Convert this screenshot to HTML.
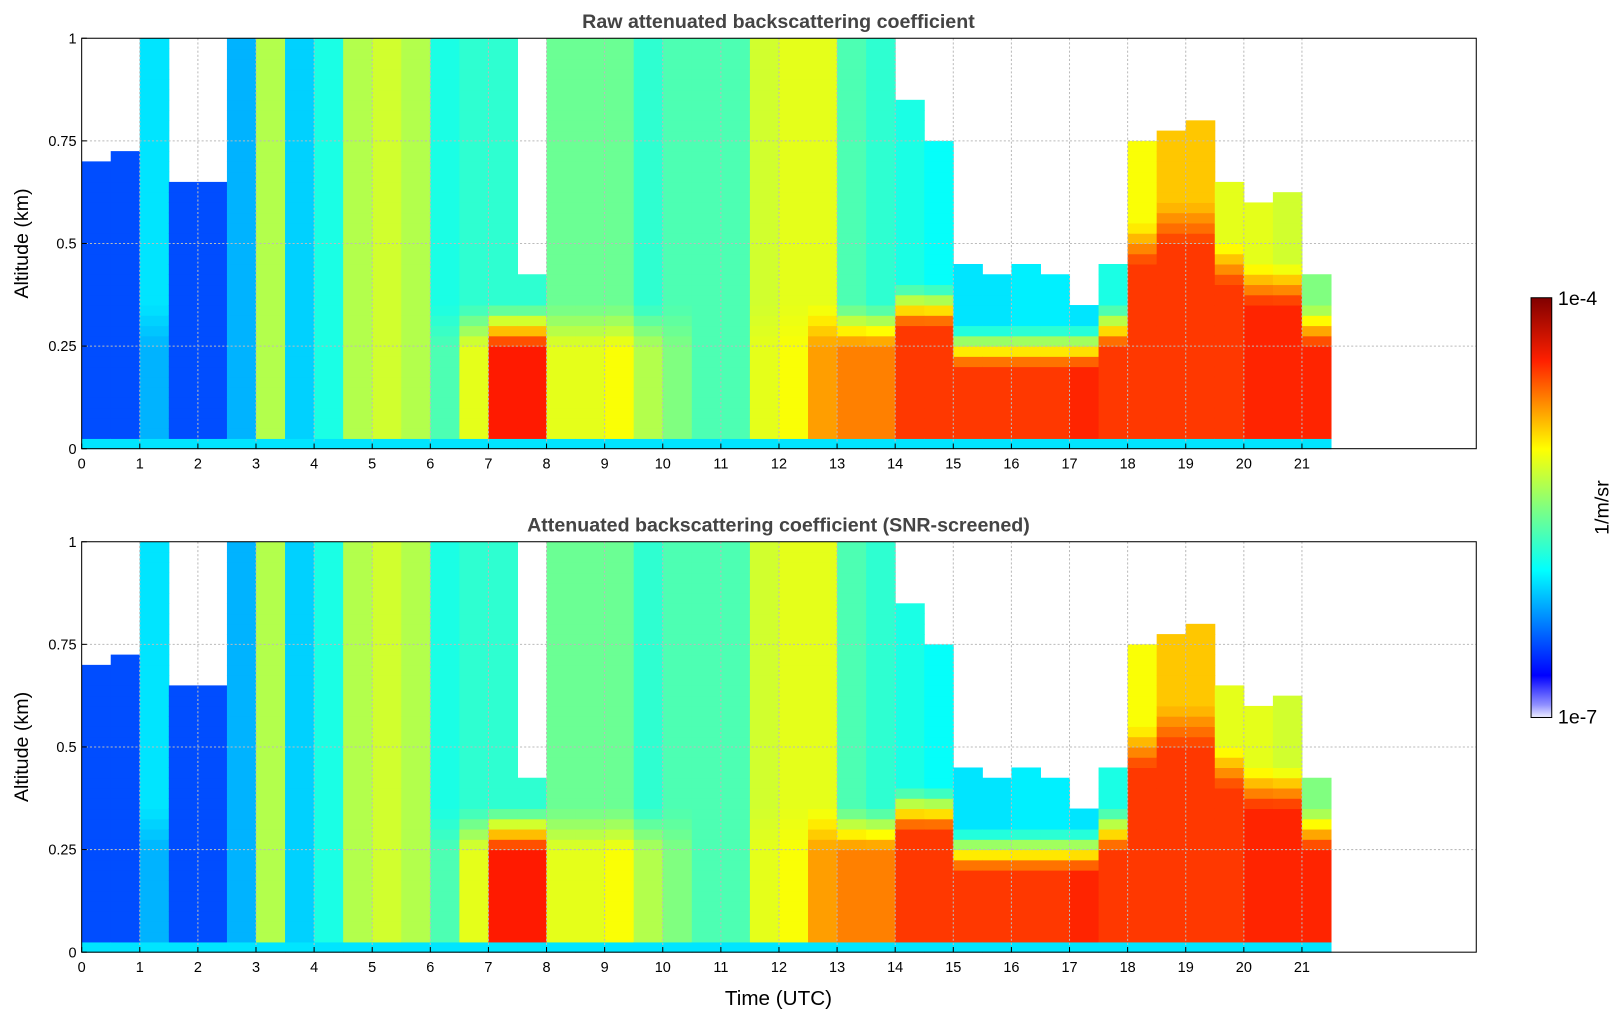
<!DOCTYPE html>
<html><head><meta charset="utf-8"><style>
html,body{margin:0;padding:0;background:#fff;overflow:hidden;width:1621px;height:1020px;}
svg{display:block;}
svg text{font-family:"Liberation Sans","DejaVu Sans",sans-serif;}
</style></head><body>
<svg id="chart" width="1621" height="1020" viewBox="0 0 1568 986.6" preserveAspectRatio="none" xmlns="http://www.w3.org/2000/svg">
<defs>
<linearGradient id="cbg" x1="0" y1="1" x2="0" y2="0">
<stop offset="0" stop-color="#eeeeff"/><stop offset="0.03" stop-color="#9090ff"/>
<stop offset="0.1" stop-color="#0000ff"/><stop offset="0.35" stop-color="#00ffff"/>
<stop offset="0.5" stop-color="#80ff80"/><stop offset="0.64" stop-color="#ffff00"/>
<stop offset="0.85" stop-color="#ff2000"/><stop offset="1" stop-color="#800000"/>
</linearGradient>
</defs>
<g id="panels"></g>
<g>
<rect x="1481" y="288" width="20" height="406" fill="url(#cbg)" stroke="#000" stroke-width="1"/>
<text x="1507" y="295" font-size="19">1e-4</text>
<text x="1507" y="700" font-size="19">1e-7</text>
<text transform="translate(1556,491) rotate(-90)" font-size="19" text-anchor="middle">1/m/sr</text>
</g>
</svg>
<script>
const times=[0,0.5,1,1.5,2,2.5,3,3.5,4,4.5,5,5.5,6,6.5,7,7.5,8,8.5,9,9.5,10,10.5,11,11.5,12,12.5,13,13.5,14,14.5,15,15.5,16,16.5,17,17.5,18,18.5,19,19.5,20,20.5,21];
const lowVal=[.2,.2,.3,.2,.2,.3,.55,.33,.4,.55,.58,.55,.45,.6,.85,.85,.6,.6,.62,.55,.5,.45,.45,.6,.62,.72,.75,.75,.82,.82,.82,.82,.82,.82,.84,.82,.82,.82,.82,.82,.84,.84,.84];
const highVal=[.2,.2,.35,.2,.2,.3,.55,.33,.4,.55,.58,.55,.4,.42,.42,.42,.48,.48,.48,.42,.45,.45,.45,.58,.6,.6,.45,.42,.4,.38,.35,.35,.36,.36,.35,.4,.62,.68,.68,.6,.6,.58,.5];
const lowTop=[.3,.3,.3,.3,.3,.3,.3,.3,.3,.3,.3,.3,.3,.3,.3,.3,.3,.3,.3,.3,.3,.3,.3,.3,.3,.3,.3,.3,.35,.35,.25,.25,.25,.25,.25,.3,.5,.55,.55,.45,.4,.4,.3];
const topAlt=[.7,.72,1,.66,.65,1,1,1,1,1,1,1,1,1,1,.42,1,1,1,1,1,1,1,1,1,1,1,1,.85,.75,.45,.42,.45,.42,.35,.45,.75,.78,.8,.65,.6,.62,.42];
const xTicks=[0,1,2,3,4,5,6,7,8,9,10,11,12,13,14,15,16,17,18,19,20,21];
const yTicks=[0,0.25,0.5,0.75,1];
const yTickLabels=["0","0.25","0.5","0.75","1"];
const NS="http://www.w3.org/2000/svg";
const X0=79,X1=1428;
const xs=t=>X0+(X1-X0)*t/24;
function jet(v){
  if(v<0.05)return "#eeeeff";
  const c=x=>Math.max(0,Math.min(1,x));
  let r=c(1.5-Math.abs(4*v-3)),g=c(1.5-Math.abs(4*v-2)),b=c(1.5-Math.abs(4*v-1));
  return "rgb("+Math.round(r*255)+","+Math.round(g*255)+","+Math.round(b*255)+")";
}
function el(tag,attrs,parent){const e=document.createElementNS(NS,tag);for(const k in attrs)e.setAttribute(k,attrs[k]);parent.appendChild(e);return e;}
const root=document.getElementById('panels');
const panels=[{y0:37,y1:434,title:"Raw attenuated backscattering coefficient",name:"raw"},{y0:524,y1:921,title:"Attenuated backscattering coefficient (SNR-screened)",name:"screened"}];
panels.forEach((p,pi)=>{
  const g=el('g',{},root);
  
  
  const ys=a=>p.y1-(p.y1-p.y0)*a;
  const hm=el('g',{},g);
  
  
  const dA=0.025;
  times.forEach((t,i)=>{
    for(let a=0;a<1-1e-9;a+=dA){
      const am=a+dA/2;
      if(am>topAlt[i])continue;
      let v;
      if(am<0.03)v=0.35;
      else{
        const w=Math.max(0,Math.min(1,(am-lowTop[i]+0.05)/0.1));
        v=lowVal[i]*(1-w)+highVal[i]*w;
      }
      const r=el('rect',{x:xs(t),y:ys(a+dA),width:xs(t+0.5)-xs(t)+0.5,height:(p.y1-p.y0)*dA+0.5,fill:jet(v)},hm);
      
      
    }
  });
  xTicks.forEach(t=>{
    const x=xs(t);
    if(t>0)el('line',{x1:x,y1:p.y0,x2:x,y2:p.y1,stroke:"#bbb","stroke-dasharray":"2,2"},g);
    el('line',{x1:x,y1:p.y1,x2:x,y2:p.y1-5,stroke:"#000"},g);
    const tx=el('text',{x:x,y:p.y1+19,"font-size":14,"text-anchor":"middle"},g);
    tx.textContent=t;
    
    
  });
  yTicks.forEach((a,k)=>{
    const y=ys(a);
    if(a>0&&a<1)el('line',{x1:X0,y1:y,x2:X1,y2:y,stroke:"#bbb","stroke-dasharray":"2,2"},g);
    el('line',{x1:X0,y1:y,x2:X0+5,y2:y,stroke:"#000"},g);
    const tx=el('text',{x:X0-5,y:y+5,"font-size":14,"text-anchor":"end"},g);
    tx.textContent=yTickLabels[k];
    
    
  });
  el('rect',{x:X0,y:p.y0,width:X1-X0,height:p.y1-p.y0,fill:"none",stroke:"#000","stroke-width":1},g);
  const tt=el('text',{x:753,y:p.y0-10,"font-size":19,"font-weight":"bold","text-anchor":"middle",fill:"#444"},g);
  tt.textContent=p.title;
  
  
  const yl=el('text',{transform:"translate(27,"+((p.y0+p.y1)/2)+") rotate(-90)","font-size":19,"text-anchor":"middle"},g);
  yl.textContent="Altitude (km)";
  
  
});
const xl=el('text',{x:753,y:972,"font-size":20,"text-anchor":"middle"},root);
xl.textContent="Time (UTC)";


</script>
</body></html>
